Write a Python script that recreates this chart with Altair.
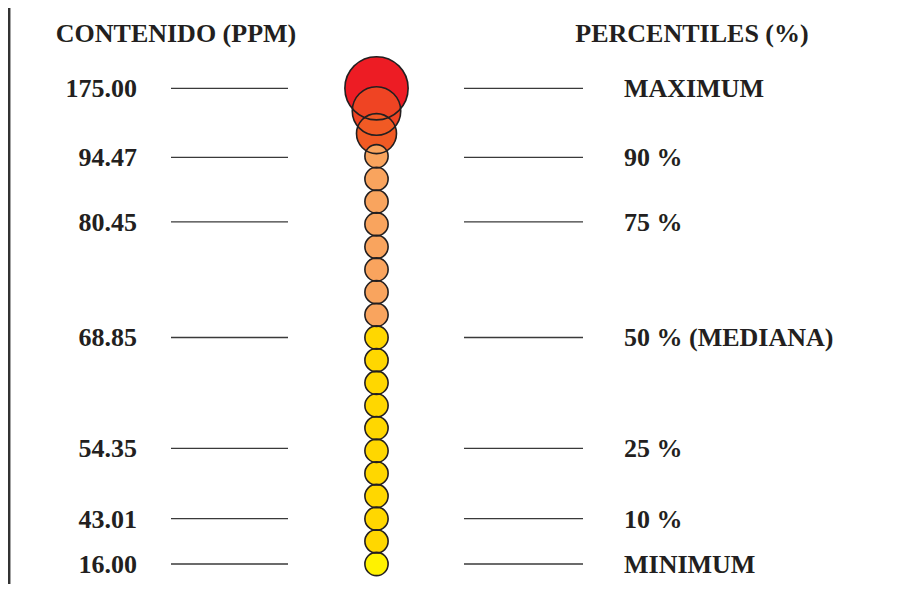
import altair as alt
import pandas as pd

# ---- data ----
circle_rank = list(range(22))
circle_group = ["A", "B", "C"] + ["D"] * 8 + ["E"] * 10 + ["F"]

label_rank = [0.0, 3.05, 5.9, 11.0, 15.9, 19.0, 21.0]
content_labels = ["175.00", "94.47", "80.45", "68.85", "54.35", "43.01", "16.00"]
percentile_labels = ["MAXIMUM", "90 %", "75 %", "50 %  (MEDIANA)", "25 %", "10 %", "MINIMUM"]

headers = ["CONTENIDO (PPM)", "PERCENTILES (%)"]

groups = ["A", "B", "C", "D", "E", "F"]
group_colors = ["#ED1C24", "#EF4423", "#F15A24", "#F9A45E", "#FFD700", "#FFF200"]
group_sizes = [4000, 2350, 1600, 540, 540, 540]

circles = pd.DataFrame({"rank": circle_rank, "group": circle_group})
labels = pd.DataFrame({"rank": label_rank, "content": content_labels,
                       "pct": percentile_labels})

FONT = "Liberation Serif"
INK = "#231F20"

yscale = alt.Scale(domain=[0, 21], range=[80.3, 556])
yenc = alt.Y("rank:Q", scale=yscale, axis=None)
size_enc = alt.Size("group:N", scale=alt.Scale(type="ordinal", domain=groups, range=group_sizes),
                    legend=None)

base_c = alt.Chart(circles)
fills = base_c.mark_circle(opacity=1).encode(
    x=alt.value(368.5),
    y=yenc,
    color=alt.Color("group:N", scale=alt.Scale(domain=groups, range=group_colors), legend=None),
    size=size_enc,
    order=alt.Order("rank:Q"),
)
outlines = base_c.mark_point(shape="circle", filled=False, stroke=INK, strokeWidth=1.6, opacity=1).encode(
    x=alt.value(368.5),
    y=yenc,
    size=size_enc,
)

base_l = alt.Chart(labels)
left_lines = base_l.mark_rule(stroke="#3a3a3a", strokeWidth=1.3).encode(
    x=alt.value(163), x2=alt.value(280), y=yenc)
right_lines = base_l.mark_rule(stroke="#3a3a3a", strokeWidth=1.3).encode(
    x=alt.value(456), x2=alt.value(575), y=yenc)
left_text = base_l.mark_text(align="right", baseline="middle", font=FONT, fontSize=26,
                             fontWeight="bold", color=INK, dy=1).encode(
    x=alt.value(129), y=yenc, text="content:N")
right_text = base_l.mark_text(align="left", baseline="middle", font=FONT, fontSize=26,
                              fontWeight="bold", color=INK, dy=1).encode(
    x=alt.value(616), y=yenc, text="pct:N")

hdr = pd.DataFrame({"text": headers, "col": ["left", "right"]})
hdr_left = alt.Chart(hdr).transform_filter(alt.datum.col == "left").mark_text(
    align="center", baseline="middle", font=FONT, fontSize=26, fontWeight="bold", color=INK
).encode(x=alt.value(168), y=alt.value(26), text="text:N")
hdr_right = alt.Chart(hdr).transform_filter(alt.datum.col == "right").mark_text(
    align="center", baseline="middle", font=FONT, fontSize=26, fontWeight="bold", color=INK
).encode(x=alt.value(684), y=alt.value(26), text="text:N")

border = alt.Chart(hdr).transform_filter(alt.datum.col == "left").mark_rule(
    stroke="#333333", strokeWidth=2.5).encode(
    x=alt.value(1.2), y=alt.value(0), y2=alt.value(580))

chart = alt.layer(border, left_lines, right_lines, fills, outlines, left_text, right_text,
                  hdr_left, hdr_right).properties(
    width=888, height=576,
    autosize=alt.AutoSizeParams(type="none"),
    padding=0,
    background="white",
).configure_view(stroke=None)

chart.save("out.html", embed_options={"renderer": "svg", "actions": False})
